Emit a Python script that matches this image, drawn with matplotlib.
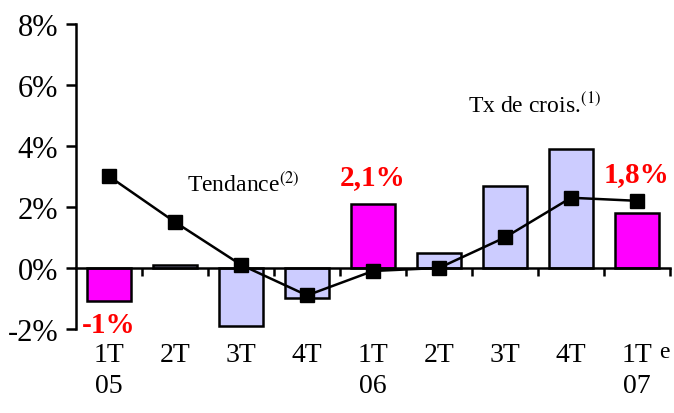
import matplotlib
matplotlib.use('Agg')
import matplotlib.pyplot as plt
from matplotlib import transforms

plt.rcParams['font.family'] = ['Liberation Serif', 'DejaVu Serif']
plt.rcParams['mathtext.fontset'] = 'stix'

# Données
trimestres = ['1T\n05', '2T', '3T', '4T', '1T\n06', '2T', '3T', '4T', '1T\n07']
tx_crois = [-1.1, 0.1, -1.9, -1.0, 2.1, 0.5, 2.7, 3.9, 1.8]
tendance = [3.0, 1.5, 0.1, -0.9, -0.1, 0.0, 1.0, 2.3, 2.2]
couleurs = ['#FF00FF', '#CCCCFF', '#CCCCFF', '#CCCCFF', '#FF00FF',
            '#CCCCFF', '#CCCCFF', '#CCCCFF', '#FF00FF']
etiquettes = {0: '-1%', 4: '2,1%', 8: '1,8%'}
yticks = [-2, 0, 2, 4, 6, 8]

fig = plt.figure(figsize=(6.74, 4.14), dpi=100)
ax = fig.add_axes([0.113, 0.203, 0.881, 0.737])

x = list(range(len(trimestres)))
ax.bar(x, tx_crois, width=0.67, color=couleurs, edgecolor='black', linewidth=1.8, zorder=2)
ax.plot(x, tendance, color='black', linewidth=1.8, marker='s', markersize=10, zorder=4)

ax.set_xlim(-0.5, 8.5)
ax.set_ylim(-2, 8)
ax.set_yticks(yticks)
ax.set_yticklabels([f'{v}%' for v in yticks], fontsize=22)
ax.tick_params(axis='y', direction='out', length=7, width=1.8, pad=6)

# axe horizontal à 0
ax.spines['top'].set_visible(False)
ax.spines['right'].set_visible(False)
ax.spines['left'].set_linewidth(1.8)
ax.spines['bottom'].set_position(('data', 0))
ax.spines['bottom'].set_linewidth(1.8)
ax.spines['bottom'].set_zorder(3)
ax.set_xticks([i + 0.5 for i in x])
ax.set_xticklabels([])
ax.tick_params(axis='x', direction='out', length=6, width=1.8)

trans = transforms.blended_transform_factory(ax.transData, ax.transAxes)
for i, lab in enumerate(trimestres):
    ax.text(i, -0.042, lab, transform=trans, ha='center', va='top',
            fontsize=20, linespacing=1.35)
ax.text(8.33, -0.04, 'e', transform=trans, ha='left', va='top', fontsize=17)

# étiquettes rouges
for i, txt in etiquettes.items():
    if tx_crois[i] < 0:
        ax.text(i, tx_crois[i] - 0.3, txt, ha='center', va='top', color='red',
                fontsize=21, fontweight='bold')
    else:
        ax.text(i, tendance[i] + 0.45 if i == 8 else tx_crois[i] + 0.45, txt,
                ha='center', va='bottom', color='red', fontsize=21, fontweight='bold')

ax.text(1.18, 2.52, r'Tendance$^{\mathrm{(2)}}$', fontsize=17, ha='left', va='baseline')
ax.text(5.44, 5.1, r'Tx de crois.$^{\mathrm{(1)}}$', fontsize=17, ha='left', va='baseline')

fig.savefig('out.png', dpi=100)
